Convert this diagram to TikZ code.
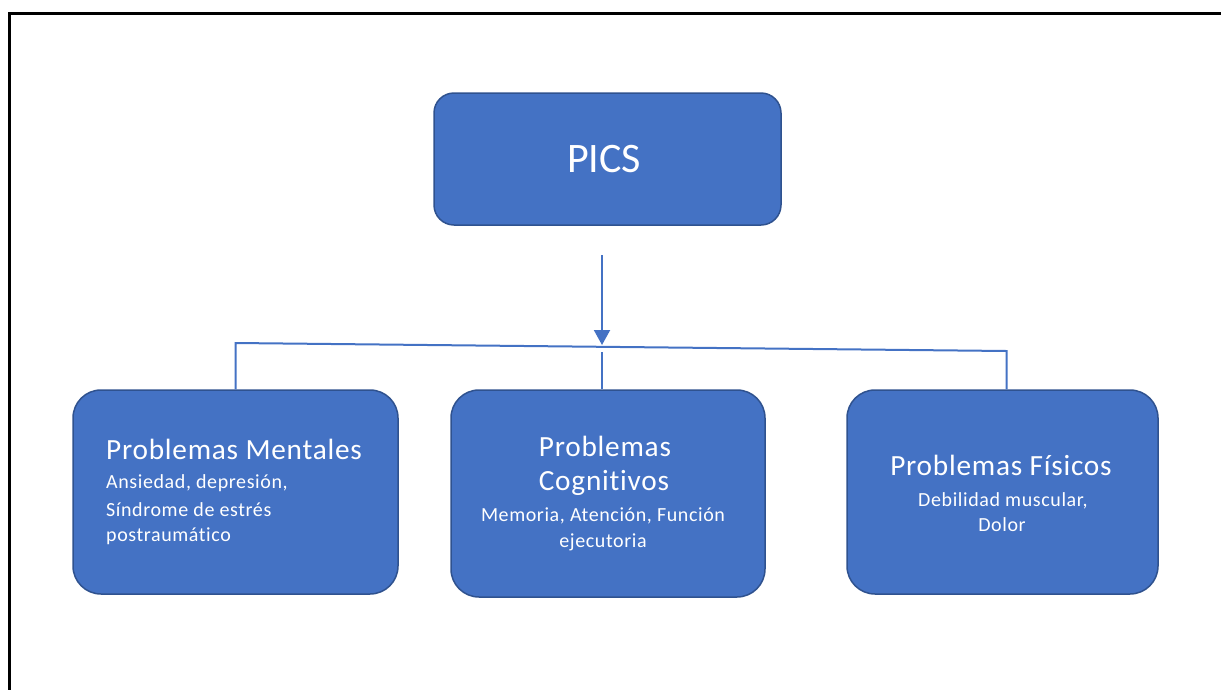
\documentclass[tikz,border=0pt]{standalone}
\usepackage{fontspec}
\setmainfont{Carlito}[Ligatures=NoCommon]
\newfontfamily\titlefont{Carlito}[LetterSpace=2.6,Ligatures=NoCommon]
\newfontfamily\subfont{Carlito}[LetterSpace=3.0,Ligatures=NoCommon]
\usetikzlibrary{arrows.meta}
\definecolor{boxfill}{HTML}{4472C4}
\definecolor{boxedge}{HTML}{2F528F}
\tikzset{
  box/.style={draw=boxedge, line width=1.5pt, fill=boxfill, rounded corners=#1, inner sep=0pt},
  conn/.style={draw=boxfill, line width=2pt},
  title/.style={text=white, inner sep=0pt, font=\titlefont\fontsize{29.3}{34}\selectfont},
  sub/.style={text=white, inner sep=0pt, font=\subfont\fontsize{20}{26}\selectfont},
  frame/.style={draw=black, line width=3pt}
}
\begin{document}
\begin{tikzpicture}[x=1pt,y=-1pt]
\useasboundingbox (0,0) rectangle (1221,689);
% frame
\coordinate (f1) at (9.5,700);
\coordinate (f2) at (9.5,13);
\coordinate (f3) at (1230,13);
\draw[frame] (f1) -- (f2) -- (f3);
% boxes
\node[box=20pt, minimum width=347pt, minimum height=132pt] (pics) at (607.5,159) {};
\node[box=28pt, minimum width=325pt, minimum height=204pt] (men) at (235.5,492) {};
\node[box=28pt, minimum width=314pt, minimum height=207pt] (cog) at (608,493.5) {};
\node[box=28pt, minimum width=311pt, minimum height=204pt] (fis) at (1002.5,492) {};
% texts
\node[text=white, inner sep=0pt, font=\fontsize{42}{50}\selectfont, anchor=base] (tpics) at (604,172.7) {PICS};
\node[title, anchor=base west] (tm1) at (106,459) {Problemas Mentales};
\node[sub, anchor=base west] (tm2) at (106,488) {Ansiedad, depresión,};
\node[sub, anchor=base west] (tm3) at (106,516) {Síndrome de estrés};
\node[sub, anchor=base west] (tm4) at (106,541) {postraumático};
\node[title, anchor=base] (tc1) at (605,456.7) {Problemas};
\node[title, anchor=base] (tc2) at (604,490.7) {Cognitivos};
\node[sub, anchor=base] (tc3) at (603,521.7) {Memoria, Atención, Función};
\node[sub, anchor=base] (tc4) at (603,547) {ejecutoria};
\node[title, anchor=base] (tf1) at (1001,475) {Problemas Físicos};
\node[sub, anchor=base] (tf2) at (1003,506) {Debilidad muscular,};
\node[sub, anchor=base] (tf3) at (1002,531.7) {Dolor};
% connectors
\coordinate (at) at (602,255);
\coordinate (ah) at (602,345);
\coordinate (hl) at (235.5,343);
\coordinate (hr) at (1006.5,351);
\coordinate (mj) at (602,352);
\draw[conn, -{Triangle[width=16pt,length=15pt]}] (at) -- (ah);
\draw[conn] (men.north) -- (hl) -- (hr) -- (hr |- fis.north);
\draw[conn] (mj) -- (mj |- cog.north);
\end{tikzpicture}
\end{document}
